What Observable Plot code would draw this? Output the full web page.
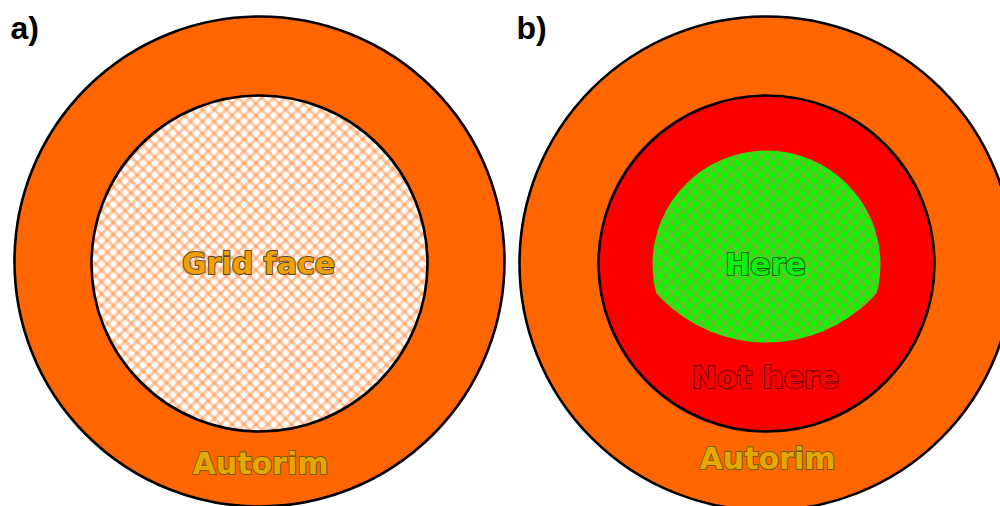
<!DOCTYPE html>
<html>
<head>
<meta charset="utf-8">
<script src="https://cdn.jsdelivr.net/npm/d3@7"></script>
<script src="https://cdn.jsdelivr.net/npm/@observablehq/plot@0.6"></script>
<style>
  html, body { margin: 0; padding: 0; background: #fff; overflow: hidden; }
  #chart svg { display: block; }
</style>
</head>
<body>
<div id="chart"></div>
<script>
// Diagram geometry (centres and radii in pixel units)
const circleNames = ["a-rim", "a-face", "b-rim", "b-face"];
const circleX = [259, 259, 766, 766];
const circleY = [261, 263, 263, 263];
const circleR = [245, 168, 247, 168];
const circleFill = ["#ff6600", "url(#faceGrid)", "#ff6600", "#fa0000"];

// "Here" region: intersection of two circles
const hereX = [766];
const hereY = [264];
const hereR = [114];
const hereClipX = [766];
const hereClipY = [194];
const hereClipR = [148];

// Labels
const labelText = ["Grid face", "Autorim", "Here", "Not here", "Autorim"];
const labelX = [258, 260, 765, 765, 767];
const labelY = [264, 464, 265, 378, 459];
const labelFill = ["#f0a000", "#e6a800", "#10f010", "#f80000", "#e6a800"];
const labelStroke = ["#5a4a30", "#7a5a00", "#1a5a10", "#700000", "#7a5a00"];

const panelText = ["a)", "b)"];
const panelX = [10, 516];
const panelY = [28, 28];

const circles = circleNames.map((n, i) => ({n, x: circleX[i], y: circleY[i], r: circleR[i], fill: circleFill[i]}));
const here = hereX.map((x, i) => ({x, y: hereY[i], r: hereR[i]}));
const hereClip = hereClipX.map((x, i) => ({x, y: hereClipY[i], r: hereClipR[i]}));
const labels = labelText.map((t, i) => ({t, x: labelX[i], y: labelY[i], fill: labelFill[i], stroke: labelStroke[i]}));
const panels = panelText.map((t, i) => ({t, x: panelX[i], y: panelY[i]}));

const chart = Plot.plot({
  width: 1000,
  height: 506,
  margin: 0,
  x: {domain: [0, 1000], range: [0, 1000], axis: null},
  y: {domain: [0, 506], range: [0, 506], axis: null},
  r: {type: "identity"},
  style: {background: "transparent", overflow: "visible"},
  marks: [
    Plot.dot(circles, {x: "x", y: "y", r: "r", fill: d => d.fill, stroke: "black", strokeWidth: 2.6}),
    Plot.dot(hereClip, {x: "x", y: "y", r: "r", fill: "black", ariaDescription: "here-clip"}),
    Plot.dot(here, {x: "x", y: "y", r: "r", fill: "url(#greenGrid)", stroke: "none", ariaDescription: "here-area"}),
    Plot.text(labels, {
      x: "x", y: "y", text: "t",
      fill: d => d.fill, stroke: d => d.stroke, strokeWidth: 2,
      fontSize: 30, fontWeight: "bold", fontFamily: "DejaVu Sans",
      lineAnchor: "middle", textAnchor: "middle"
    }),
    Plot.text(panels, {
      x: "x", y: "y", text: "t", fill: "black",
      fontSize: 32, fontWeight: "bold", fontFamily: "Liberation Sans",
      lineAnchor: "middle", textAnchor: "start"
    })
  ]
});

// Patterns and clip path
const svg = d3.select(chart);
const defs = svg.insert("defs", ":first-child");

const pf = 8.4, lf = 3.2;
const face = defs.append("pattern").attr("id", "faceGrid")
  .attr("patternUnits", "userSpaceOnUse").attr("width", pf).attr("height", pf)
  .attr("patternTransform", "rotate(45)");
face.append("rect").attr("width", pf).attr("height", pf).attr("fill", "#ffffff");
face.append("rect").attr("width", pf).attr("height", lf).attr("fill", "#ff6600").attr("fill-opacity", 0.34);
face.append("rect").attr("width", lf).attr("height", pf).attr("fill", "#ff6600").attr("fill-opacity", 0.34);

const pg = 8.4, lg = 3.0;
const green = defs.append("pattern").attr("id", "greenGrid")
  .attr("patternUnits", "userSpaceOnUse").attr("width", pg).attr("height", pg)
  .attr("patternTransform", "rotate(45)");
green.append("rect").attr("width", pg).attr("height", pg).attr("fill", "#00ff00");
green.append("rect").attr("width", pg).attr("height", lg).attr("fill", "#b09040").attr("fill-opacity", 0.45);
green.append("rect").attr("width", lg).attr("height", pg).attr("fill", "#b09040").attr("fill-opacity", 0.45);

const clip = defs.append("clipPath").attr("id", "hereClip");
const clipGroup = svg.select('[aria-description="here-clip"]');
clipGroup.selectAll("circle").each(function() { clip.node().appendChild(this); });
clipGroup.remove();
svg.select('[aria-description="here-area"]').attr("clip-path", "url(#hereClip)");

document.getElementById("chart").appendChild(chart);
</script>
</body>
</html>
